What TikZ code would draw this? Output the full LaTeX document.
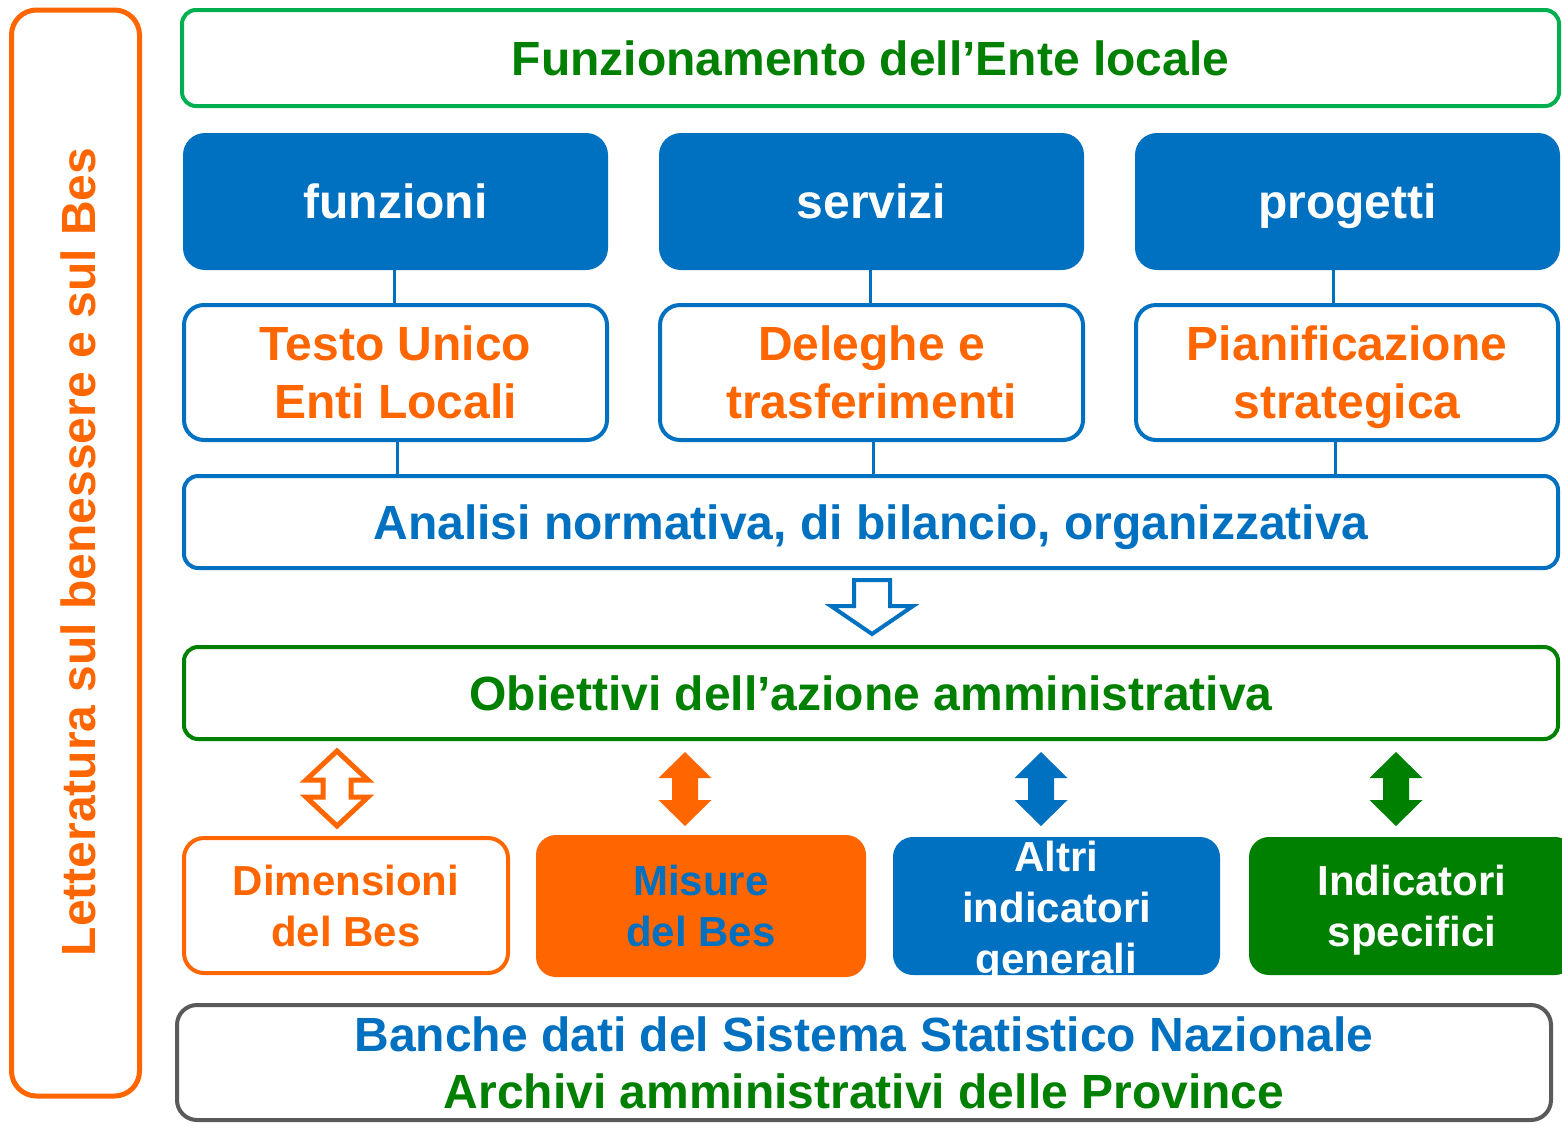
\documentclass[tikz,border=0pt]{standalone}
\usepackage{fontspec}
\setmainfont{Liberation Sans}
\definecolor{orC}{HTML}{FF6600}
\definecolor{blC}{HTML}{0070C0}
\definecolor{grL}{HTML}{00B050}
\definecolor{grD}{HTML}{008000}
\definecolor{gyC}{HTML}{5A5A5A}
\newcommand\Lh{\vphantom{l}}
\newcommand\myDblArrow[7][]{\path[#1] (#2,#3) -- ({#2+#5},{#3+#7}) -- ({#2+#6},{#3+#7}) -- ({#2+#6},{#4-#7}) -- ({#2+#5},{#4-#7}) -- (#2,#4) -- ({#2-#5},{#4-#7}) -- ({#2-#6},{#4-#7}) -- ({#2-#6},{#3+#7}) -- ({#2-#5},{#3+#7}) -- cycle;}
\begin{document}
\begin{tikzpicture}[x=1pt,y=-1pt,
  bigf/.style={font=\bfseries\fontsize{48}{58}\selectfont, text depth=0pt},
  smf/.style={font=\bfseries\fontsize{42}{51}\selectfont, text depth=0pt},
  wbox/.style={draw, line width=4pt, fill=white, rounded corners=14pt, inner sep=0pt, align=center},
  fbox/.style={rounded corners=22pt, inner sep=0pt, align=center},
  conn/.style={draw=blC, line width=3pt}]
\useasboundingbox (0,0) rectangle (1562,1125);
% left box
\node[draw=orC, line width=5pt, rounded corners=25pt, minimum width=128pt, minimum height=1086pt] (lit) at (75.5,553) {};
\node[bigf, text=orC, rotate=90, inner sep=0pt] (littxt) at (78,552) {Letteratura sul benessere e sul Bes};
% top
\node[wbox, draw=grL, text=grD, bigf, minimum width=1377pt, minimum height=96pt] (top) at (870.5,58) {\Lh Funzionamento dell’Ente locale};
% blue filled
\node[fbox, fill=blC, text=white, bigf, minimum width=425pt, minimum height=137pt] (f1) at (395.5,201.5) {\Lh funzioni};
\node[fbox, fill=blC, text=white, bigf, minimum width=425pt, minimum height=137pt] (f2) at (871.5,201.5) {\Lh servizi};
\node[fbox, fill=blC, text=white, bigf, minimum width=425pt, minimum height=137pt] (f3) at (1347.5,201.5) {\Lh progetti};
% white boxes
\node[wbox, draw=blC, text=orC, bigf, rounded corners=20pt, minimum width=423pt, minimum height=135pt] (t1) at (395.5,372.5) {\Lh Testo Unico\\Enti Locali};
\node[wbox, draw=blC, text=orC, bigf, rounded corners=20pt, minimum width=423pt, minimum height=135pt] (t2) at (871.5,372.5) {\Lh Deleghe e\\trasferimenti};
\node[wbox, draw=blC, text=orC, bigf, rounded corners=20pt, minimum width=422pt, minimum height=135pt] (t3) at (1347,372.5) {\Lh Pianificazione\\strategica};
% analisi
\node[wbox, draw=blC, text=blC, bigf, minimum width=1374pt, minimum height=92pt] (an) at (871,522) {\Lh Analisi normativa, di bilancio, organizzativa};
% connectors
\coordinate (c1) at (394,0); \coordinate (c2) at (870,0); \coordinate (c3) at (1333,0);
\coordinate (d1c) at (397,0); \coordinate (d2c) at (873,0); \coordinate (d3c) at (1335,0);
\draw[conn] (f1.south -| c1) -- (t1.north -| c1);
\draw[conn] (f2.south -| c2) -- (t2.north -| c2);
\draw[conn] (f3.south -| c3) -- (t3.north -| c3);
\draw[conn] (t1.south -| d1c) -- (an.north -| d1c);
\draw[conn] (t2.south -| d2c) -- (an.north -| d2c);
\draw[conn] (t3.south -| d3c) -- (an.north -| d3c);
% down arrow
\draw[draw=blC, line width=4pt, fill=white, line join=miter] (854,580) -- (890,580) -- (890,606) -- (913,606) -- (872,634) -- (831,606) -- (854,606) -- cycle;
% obiettivi
\node[wbox, draw=grD, text=grD, bigf, minimum width=1374pt, minimum height=92pt] (ob) at (871,693) {\Lh Obiettivi dell’azione amministrativa};
% double arrows
\myDblArrow[draw=orC, line width=5pt, fill=white]{337}{751}{826}{31}{14}{29}
\myDblArrow[fill=orC]{685}{752}{826}{26.5}{13}{26}
\myDblArrow[fill=blC]{1041}{752}{826}{26.5}{13}{26}
\myDblArrow[fill=grD]{1396}{752}{826}{26.5}{13}{26}
% bottom row
\node[wbox, draw=orC, text=orC, smf, rounded corners=20pt, minimum width=324pt, minimum height=135pt] (b1) at (346,905.5) {\Lh Dimensioni\\del Bes};
\node[fbox, fill=orC, text=blC, smf, rounded corners=20pt, minimum width=330pt, minimum height=142pt] (b2) at (701,906) {\Lh Misure\\del Bes};
\node[fbox, fill=blC, text=white, smf, rounded corners=20pt, minimum width=327pt, minimum height=138pt] (b3) at (1056.5,906) {};
\node[text=white, smf, inner sep=0pt, align=center] (b3t) at (1056.5,907.5) {\Lh Altri\\indicatori\\generali};
\node[fbox, fill=grD, text=white, smf, rounded corners=20pt, minimum width=326pt, minimum height=138pt] (b4) at (1412,906) {\Lh Indicatori\\specifici};
% bottom
\node[wbox, draw=gyC, rounded corners=20pt, minimum width=1374pt, minimum height=115pt, font=\bfseries\fontsize{48}{57}\selectfont, text depth=0pt] (bot) at (864,1062.5) {\textcolor{blC}{\Lh Banche dati del Sistema Statistico Nazionale}\\\textcolor{grD}{Archivi amministrativi delle Province}};
\end{tikzpicture}
\end{document}
